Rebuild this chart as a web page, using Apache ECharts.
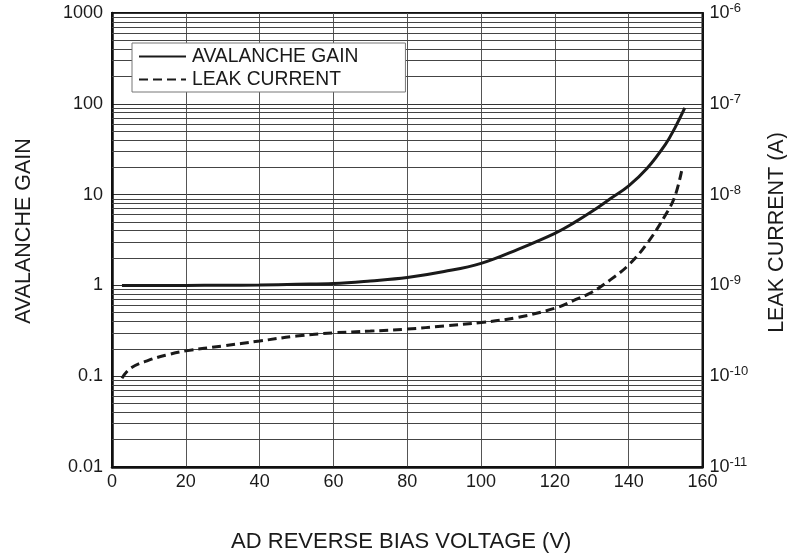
<!DOCTYPE html>
<html>
<head>
<meta charset="utf-8">
<script src="https://cdn.jsdelivr.net/npm/echarts@6/dist/echarts.min.js"></script>
<style>
  html, body { margin: 0; padding: 0; background: #fff; }
  #chart { width: 787px; height: 556px; }
</style>
</head>
<body>
<div id="chart"></div>
<script>
// ---- data ----
const gainVoltage = [2.7, 10, 20, 30, 40, 50, 60, 70, 80, 90, 100, 110, 120, 125, 130, 135, 140, 145, 150, 152.5, 155.2];
const gainValues  = [1.0, 1.0, 1.0, 1.005, 1.01, 1.03, 1.05, 1.12, 1.22, 1.42, 1.75, 2.5, 3.75, 4.85, 6.5, 9.0, 12.5, 19.5, 36, 54, 90];

const leakVoltage = [2.7, 5, 10, 15, 20, 30, 40, 50, 60, 70, 80, 90, 100, 110, 120, 125, 130, 135, 140, 145, 150, 152.5, 154.4];
const leakValues  = [9.5e-11, 1.22e-10, 1.5e-10, 1.72e-10, 1.9e-10, 2.15e-10, 2.44e-10, 2.77e-10, 3.0e-10, 3.14e-10, 3.3e-10, 3.58e-10, 3.9e-10, 4.45e-10, 5.6e-10, 6.8e-10, 8.4e-10, 1.15e-9, 1.68e-9, 2.9e-9, 6.0e-9, 9.5e-9, 1.87e-8];

const xTicks = [0, 20, 40, 60, 80, 100, 120, 140, 160];
const gainDecades = [0.01, 0.1, 1, 10, 100, 1000];
const leakDecades = [1e-11, 1e-10, 1e-9, 1e-8, 1e-7, 1e-6];

const seriesNames = ['AVALANCHE GAIN', 'LEAK CURRENT'];

// minor log grid lines (2..9 within each decade of the left axis)
const minorGrid = [];
for (let i = 0; i < gainDecades.length - 1; i++) {
  for (let m = 2; m <= 9; m++) minorGrid.push({ yAxis: +(gainDecades[i] * m).toPrecision(6) });
}

const FONT = '"Liberation Sans", Arial, Helvetica, sans-serif';

const chart = echarts.init(document.getElementById('chart'), null, { renderer: 'canvas' });

chart.setOption({
  backgroundColor: '#fff',
  animation: false,
  textStyle: { fontFamily: FONT },
  grid: {
    left: 112, right: 84.5, top: 13, bottom: 89,
    outerBoundsMode: 'none',
    containLabel: false,
    show: true, borderColor: '#111', borderWidth: 2, backgroundColor: 'transparent'
  },
  legend: {
    orient: 'vertical',
    left: 132, top: 43,
    data: seriesNames,
    itemWidth: 47, itemHeight: 14, itemGap: 4,
    padding: [4, 47, 3, 6],
    backgroundColor: '#fff',
    borderColor: '#777', borderWidth: 1,
    itemStyle: { opacity: 0 },
    textStyle: { fontSize: 19.3, color: '#1a1a1a', fontFamily: FONT, padding: [0, 0, 0, 1] },
    selectedMode: false
  },
  xAxis: {
    type: 'value',
    min: xTicks[0], max: xTicks[xTicks.length - 1], interval: 20,
    name: 'AD REVERSE BIAS VOLTAGE (V)',
    nameLocation: 'middle', nameGap: 64,
    nameTextStyle: { fontSize: 22, color: '#1a1a1a', fontFamily: FONT, padding: [0, 12, 0, 0] },
    axisLine: { show: true, lineStyle: { color: '#111', width: 2.5 } },
    axisTick: { show: false },
    axisLabel: { fontSize: 18, color: '#1a1a1a', margin: 6, fontFamily: FONT },
    splitLine: { show: true, lineStyle: { color: '#555', width: 1 } }
  },
  yAxis: [
    {
      type: 'log', logBase: 10,
      min: gainDecades[0], max: gainDecades[gainDecades.length - 1],
      splitNumber: 5,
      name: 'AVALANCHE GAIN',
      nameLocation: 'middle', nameGap: 77, nameRotate: 90,
      nameTextStyle: { fontSize: 21.5, color: '#1a1a1a', fontFamily: FONT, padding: [0, 0, 0, 18] },
      axisLine: { show: true, lineStyle: { color: '#111', width: 2.5 } },
      axisTick: { show: false },
      axisLabel: {
        fontSize: 18, color: '#1a1a1a', margin: 9, fontFamily: FONT,
        formatter: v => String(Number((+v).toPrecision(6)))
      },
      splitLine: { show: true, lineStyle: { color: '#333', width: 1 } }
    },
    {
      type: 'log', logBase: 10,
      min: leakDecades[0], max: leakDecades[leakDecades.length - 1],
      splitNumber: 5,
      position: 'right',
      name: 'LEAK CURRENT (A)',
      nameLocation: 'middle', nameGap: 64, nameRotate: 90,
      nameTextStyle: { fontSize: 21.5, color: '#1a1a1a', fontFamily: FONT, padding: [0, 0, 0, 15] },
      axisLine: { show: true, lineStyle: { color: '#111', width: 2 } },
      axisTick: { show: false },
      axisLabel: {
        color: '#1a1a1a', margin: 7, fontFamily: FONT,
        formatter: v => '{a|10}{b|' + Math.round(Math.log10(v)) + '}',
        rich: {
          a: { fontSize: 18, color: '#1a1a1a', fontFamily: FONT },
          b: { fontSize: 13, color: '#1a1a1a', fontFamily: FONT, padding: [0, 0, 9, 0] }
        }
      },
      splitLine: { show: false }
    }
  ],
  series: [
    {
      name: seriesNames[0],
      type: 'line',
      yAxisIndex: 0,
      data: gainVoltage.map((v, i) => [v, gainValues[i]]),
      smooth: 0.4,
      symbol: 'none',
      lineStyle: { color: '#1a1a1a', width: 3 },
      itemStyle: { color: '#1a1a1a' },
      z: 5,
      markLine: {
        silent: true,
        symbol: 'none',
        label: { show: false },
        lineStyle: { color: '#444', width: 1, type: 'solid' },
        data: minorGrid,
        z: 1
      }
    },
    {
      name: seriesNames[1],
      type: 'line',
      yAxisIndex: 1,
      data: leakVoltage.map((v, i) => [v, leakValues[i]]),
      smooth: 0.4,
      symbol: 'none',
      lineStyle: { color: '#1a1a1a', width: 3, type: [9, 5] },
      itemStyle: { color: '#1a1a1a' },
      z: 5
    }
  ]
});
</script>
</body>
</html>
